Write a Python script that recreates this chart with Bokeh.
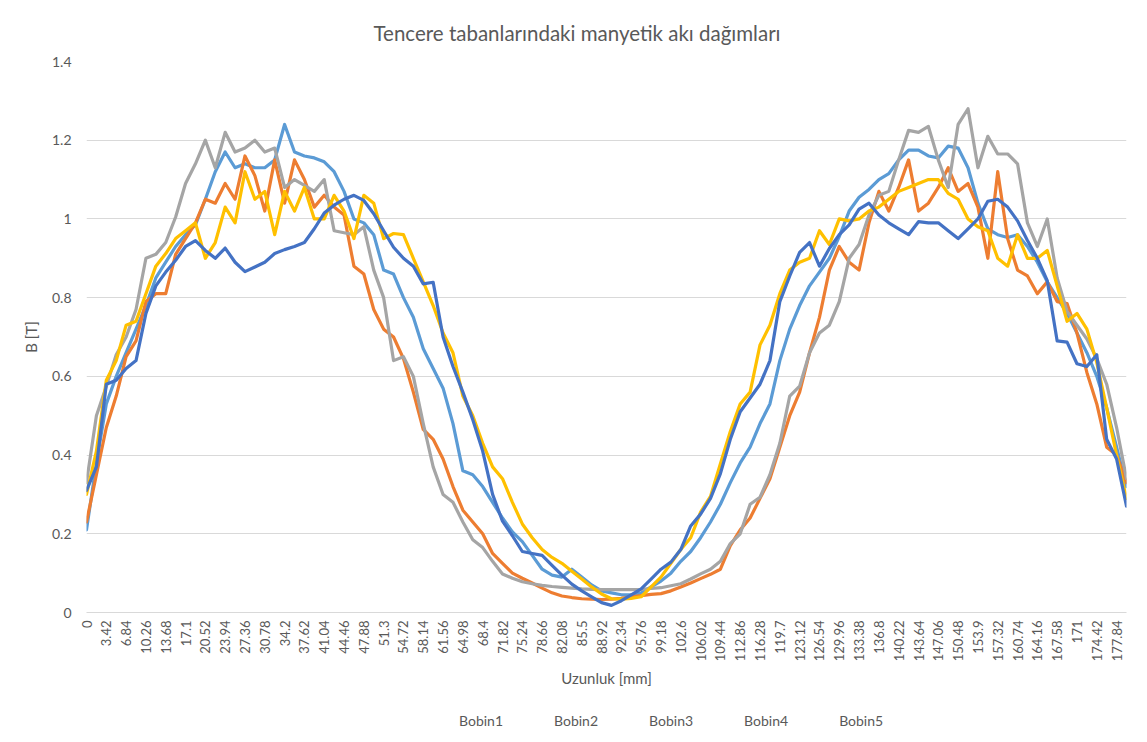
import math
from bokeh.plotting import figure
from bokeh.layouts import column
from bokeh.models import (Range1d, FixedTicker, CustomJSTickFormatter, Legend,
                          LegendItem, Title)
from bokeh.embed import file_html
from bokeh.resources import INLINE

# ---- data -------------------------------------------------------------
# measurement positions along the pot base [mm] (1.71 mm pitch)
positions = [round(i * 1.71, 2) for i in range(106)]
tick_positions = positions[::2]          # labelled every 3.42 mm

series_names = ["Bobin1", "Bobin2", "Bobin3", "Bobin4", "Bobin5"]

bobin1 = [0.21, 0.38, 0.53, 0.60, 0.66, 0.72, 0.78, 0.85, 0.89, 0.93,
          0.96, 0.985, 1.05, 1.12, 1.17, 1.13, 1.14, 1.13, 1.13, 1.15,
          1.24, 1.17, 1.16, 1.155, 1.145, 1.12, 1.07, 1.00, 0.99, 0.96,
          0.87, 0.86, 0.80, 0.75, 0.67, 0.62, 0.57, 0.48, 0.36, 0.35,
          0.32, 0.28, 0.24, 0.205, 0.18, 0.145, 0.11, 0.095, 0.09, 0.11,
          0.09, 0.07, 0.055, 0.05, 0.045, 0.045, 0.05, 0.065, 0.08, 0.10,
          0.13, 0.155, 0.19, 0.23, 0.275, 0.33, 0.38, 0.42, 0.48, 0.53,
          0.64, 0.72, 0.78, 0.83, 0.865, 0.90, 0.955, 1.02, 1.055, 1.075,
          1.10, 1.115, 1.15, 1.175, 1.175, 1.16, 1.155, 1.185, 1.18, 1.13,
          1.04, 0.975, 0.96, 0.953, 0.96, 0.93, 0.89, 0.84, 0.80, 0.76,
          0.71, 0.66, 0.60, 0.52, 0.42, 0.32]

bobin2 = [0.23, 0.35, 0.47, 0.55, 0.65, 0.69, 0.79, 0.81, 0.81, 0.91,
          0.95, 0.99, 1.05, 1.04, 1.09, 1.05, 1.16, 1.11, 1.02, 1.15,
          1.04, 1.15, 1.10, 1.03, 1.06, 1.03, 1.01, 0.88, 0.86, 0.77,
          0.72, 0.70, 0.645, 0.56, 0.465, 0.44, 0.39, 0.32, 0.26, 0.23,
          0.20, 0.15, 0.125, 0.10, 0.087, 0.075, 0.062, 0.05, 0.042, 0.038,
          0.035, 0.034, 0.033, 0.034, 0.036, 0.04, 0.043, 0.046, 0.048, 0.055,
          0.065, 0.075, 0.086, 0.097, 0.11, 0.17, 0.21, 0.24, 0.29, 0.34,
          0.42, 0.50, 0.56, 0.66, 0.75, 0.87, 0.93, 0.89, 0.87, 0.99,
          1.07, 1.02, 1.08, 1.15, 1.02, 1.04, 1.08, 1.13, 1.07, 1.09,
          1.03, 0.90, 1.12, 0.95, 0.87, 0.855, 0.81, 0.84, 0.79, 0.785,
          0.71, 0.61, 0.53, 0.42, 0.40, 0.33]

bobin3 = [0.33, 0.50, 0.575, 0.655, 0.70, 0.77, 0.90, 0.91, 0.94, 1.005,
          1.09, 1.14, 1.20, 1.13, 1.22, 1.17, 1.18, 1.20, 1.17, 1.18,
          1.08, 1.10, 1.085, 1.07, 1.10, 0.97, 0.965, 0.96, 0.98, 0.87,
          0.80, 0.64, 0.65, 0.60, 0.48, 0.37, 0.30, 0.28, 0.23, 0.185,
          0.165, 0.13, 0.098, 0.087, 0.078, 0.073, 0.069, 0.066, 0.064, 0.062,
          0.06, 0.059, 0.058, 0.058, 0.058, 0.058, 0.059, 0.061, 0.063, 0.068,
          0.073, 0.085, 0.098, 0.11, 0.13, 0.175, 0.20, 0.275, 0.293, 0.35,
          0.43, 0.55, 0.575, 0.66, 0.71, 0.73, 0.79, 0.90, 0.935, 1.01,
          1.06, 1.07, 1.15, 1.225, 1.22, 1.235, 1.15, 1.08, 1.24, 1.28,
          1.13, 1.21, 1.165, 1.165, 1.14, 0.99, 0.93, 1.00, 0.85, 0.765,
          0.73, 0.695, 0.645, 0.58, 0.47, 0.34]

bobin4 = [0.30, 0.41, 0.59, 0.64, 0.73, 0.74, 0.81, 0.88, 0.912, 0.95,
          0.97, 0.99, 0.90, 0.94, 1.03, 0.99, 1.12, 1.05, 1.07, 0.96,
          1.07, 1.02, 1.08, 1.00, 1.00, 1.06, 1.02, 0.95, 1.06, 1.04,
          0.95, 0.963, 0.96, 0.90, 0.84, 0.78, 0.71, 0.66, 0.55, 0.50,
          0.43, 0.37, 0.34, 0.28, 0.225, 0.19, 0.16, 0.14, 0.125, 0.105,
          0.085, 0.065, 0.047, 0.035, 0.034, 0.036, 0.04, 0.065, 0.09, 0.125,
          0.16, 0.19, 0.255, 0.295, 0.378, 0.46, 0.53, 0.56, 0.68, 0.73,
          0.81, 0.87, 0.89, 0.90, 0.97, 0.935, 1.00, 0.995, 1.00, 1.02,
          1.03, 1.05, 1.07, 1.08, 1.09, 1.10, 1.10, 1.065, 1.05, 1.00,
          0.98, 0.97, 0.90, 0.88, 0.96, 0.90, 0.90, 0.92, 0.83, 0.74,
          0.76, 0.72, 0.635, 0.52, 0.40, 0.29]

bobin5 = [0.31, 0.37, 0.58, 0.59, 0.62, 0.64, 0.76, 0.83, 0.865, 0.895,
          0.93, 0.945, 0.92, 0.90, 0.926, 0.89, 0.866, 0.878, 0.89, 0.912,
          0.922, 0.93, 0.94, 0.975, 1.015, 1.035, 1.05, 1.06, 1.047, 1.013,
          0.97, 0.928, 0.90, 0.88, 0.835, 0.839, 0.70, 0.625, 0.56, 0.49,
          0.41, 0.30, 0.232, 0.195, 0.155, 0.15, 0.145, 0.12, 0.095, 0.072,
          0.055, 0.04, 0.025, 0.018, 0.03, 0.045, 0.06, 0.085, 0.11, 0.128,
          0.16, 0.22, 0.25, 0.29, 0.353, 0.44, 0.51, 0.545, 0.58, 0.64,
          0.79, 0.855, 0.915, 0.94, 0.88, 0.925, 0.96, 0.985, 1.025, 1.04,
          1.01, 0.99, 0.975, 0.96, 0.993, 0.99, 0.99, 0.97, 0.95, 0.975,
          1.00, 1.045, 1.05, 1.03, 0.995, 0.945, 0.90, 0.843, 0.69, 0.687,
          0.632, 0.625, 0.655, 0.44, 0.39, 0.27]

series_values = [bobin1, bobin2, bobin3, bobin4, bobin5]
series_colors = ["#5B9BD5", "#ED7D31", "#A5A5A5", "#FFC000", "#4472C4"]
y_ticks = [0, 0.2, 0.4, 0.6, 0.8, 1.0, 1.2, 1.4]

# ---- main figure ------------------------------------------------------
FONT = "Lato"
TXT = "#595959"
GRID = "#D9D9D9"

p = figure(width=1144, height=705,
           output_backend="svg", toolbar_location=None,
           x_range=Range1d(positions[0], positions[-1]),
           y_range=Range1d(0, 1.4),
           min_border_left=86, min_border_right=18,
           min_border_top=61, min_border_bottom=93)
p.outline_line_color = None
p.background_fill_color = "white"
p.border_fill_color = "white"

p.title = Title(text="Tencere tabanlarındaki manyetik akı dağımları",
                align="left", offset=287, standoff=33,
                text_font=FONT, text_font_size="20.5px",
                text_font_style="normal", text_color=TXT)

# y axis
p.yaxis.ticker = FixedTicker(ticks=y_ticks)
p.yaxis.formatter = CustomJSTickFormatter(
    code="return (Math.round(tick*10)/10).toString();")
p.yaxis.axis_line_color = None
p.yaxis.major_tick_line_color = None
p.yaxis.minor_tick_line_color = None
p.yaxis.major_label_standoff = 9
p.yaxis.major_label_text_font = FONT
p.yaxis.major_label_text_font_size = "14px"
p.yaxis.major_label_text_color = TXT
p.yaxis.axis_label = "B [T]"
p.yaxis.axis_label_text_font = FONT
p.yaxis.axis_label_text_font_size = "15px"
p.yaxis.axis_label_text_font_style = "normal"
p.yaxis.axis_label_text_color = TXT
p.yaxis.axis_label_standoff = 9

# x axis
p.xaxis.ticker = FixedTicker(ticks=tick_positions)
p.xaxis.formatter = CustomJSTickFormatter(
    code="return (Math.round(tick*100)/100).toString();")
p.xaxis.major_label_orientation = math.pi / 2
p.xaxis.axis_line_color = GRID
p.xaxis.axis_line_width = 1
p.xaxis.major_tick_line_color = None
p.xaxis.minor_tick_line_color = None
p.xaxis.major_tick_out = 0
p.xaxis.major_label_standoff = 8
p.xaxis.major_label_text_font = FONT
p.xaxis.major_label_text_font_size = "13px"
p.xaxis.major_label_text_color = TXT
p.xaxis.axis_label = "Uzunluk [mm]"
p.xaxis.axis_label_text_font = FONT
p.xaxis.axis_label_text_font_size = "15px"
p.xaxis.axis_label_text_font_style = "normal"
p.xaxis.axis_label_text_color = TXT
p.xaxis.axis_label_standoff = 5

p.xgrid.grid_line_color = None
p.ygrid.grid_line_color = GRID
p.ygrid.grid_line_width = 1

for name, vals, col in zip(series_names, series_values, series_colors):
    p.line(positions, vals, line_color=col, line_width=3.2,
           line_join="round", line_cap="round")

# ---- legend strip below the chart -------------------------------------
leg = figure(width=1144, height=34, output_backend="svg",
             toolbar_location=None, x_axis_type=None, y_axis_type=None,
             x_range=Range1d(0, 1), y_range=Range1d(0, 1),
             min_border_left=0, min_border_right=0,
             min_border_top=0, min_border_bottom=0)
leg.outline_line_color = None
leg.xgrid.visible = False
leg.ygrid.visible = False
leg.background_fill_color = "white"
leg.border_fill_color = "white"

items = []
for name, col in zip(series_names, series_colors):
    r = leg.line(x=[], y=[], line_color=col, line_width=3.2)
    items.append(LegendItem(label=name, renderers=[r]))

legend = Legend(items=items, orientation="horizontal", location=(338, 10),
                glyph_width=32, glyph_height=14, label_height=14,
                label_standoff=3, spacing=16,
                label_text_font=FONT, label_text_font_size="14px",
                label_text_color=TXT, border_line_color=None,
                background_fill_alpha=0, padding=0, margin=0)
leg.add_layout(legend)

layout = column(p, leg, spacing=0)

open("out.html", "w").write(file_html(layout, INLINE))
